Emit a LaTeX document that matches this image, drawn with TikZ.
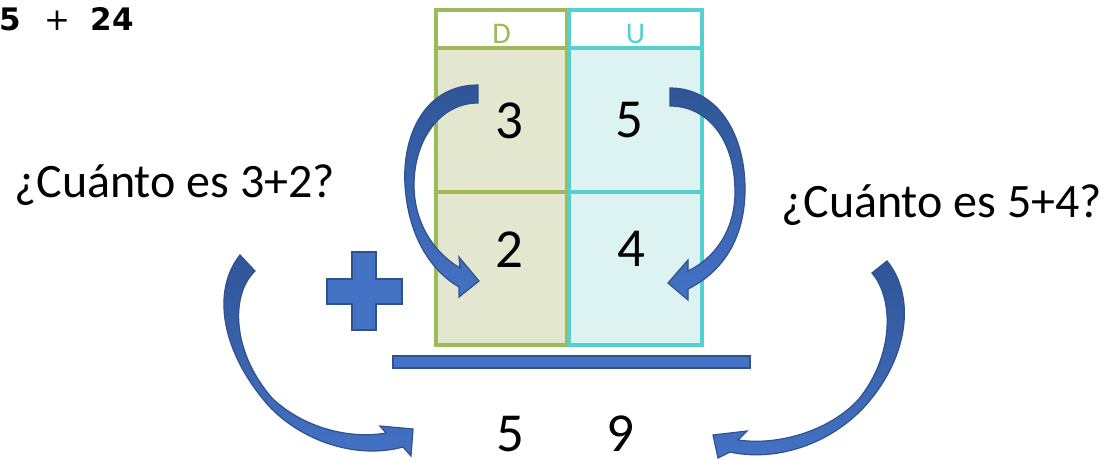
\documentclass[tikz,border=0pt]{standalone}
\usepackage{fontspec}
\setmainfont{Carlito}
\newfontfamily\heavysans{DejaVu Sans}
\usepackage{tikz}
\usetikzlibrary{positioning}
\definecolor{dgreen}{HTML}{9BBB59}
\definecolor{dfill}{HTML}{E4E7D0}
\definecolor{ucyan}{HTML}{55D0D0}
\definecolor{ufill}{HTML}{DDF3F2}
\definecolor{arrblue}{HTML}{4472C4}
\definecolor{arrdark}{HTML}{2F5597}
\definecolor{arredge}{HTML}{2F528F}

\tikzset{
    dcell/.style={draw=dgreen, fill=dfill, line width=3.5pt, inner sep=0pt, outer sep=0pt, minimum width=131pt},
    ucell/.style={draw=ucyan, fill=ufill, line width=3.5pt, inner sep=0pt, outer sep=0pt, minimum width=133pt},
    head/.style={fill=white, minimum height=38pt, text height=28pt, text depth=0pt, font=\fontsize{30}{34}\selectfont},
    digit/.style={inner sep=0pt, font=\fontsize{55}{60}\selectfont},
    question/.style={inner sep=0pt, anchor=base west, font=\fontsize{48}{52}\selectfont},
    blockarrow/.style={draw=arredge, line width=1.2pt, top color=arrdark, bottom color=arrblue},
    solidblue/.style={draw=arredge, fill=arrblue, line width=1.5pt},
}

\begin{document}
\begin{tikzpicture}[x=1pt, y=-1pt]
    \fill[white] (0,0) rectangle (1108,459);
    \useasboundingbox (0,0) rectangle (1108,459);

    % the place value table
    \node[dcell, head, text=dgreen] (hd) at (501.5,29) {D};
    \node[dcell, minimum height=144pt, below=0pt of hd] (d1) {};
    \node[dcell, minimum height=153pt, below=0pt of d1] (d2) {};
    \node[ucell, head, text=ucyan, right=2pt of hd] (hu) {U};
    \node[ucell, minimum height=144pt, below=0pt of hu] (u1) {};
    \node[ucell, minimum height=153pt, below=0pt of u1] (u2) {};

    \node[digit] (a1) at (509,120.5) {3};
    \node[digit] (b1) at (629,120.5) {5};
    \node[digit] (a2) at (509,250) {2};
    \node[digit] (b2) at (631,249) {4};

    % plus sign and result line
    \draw[solidblue] (352,252) -- (376,252) -- (376,279) -- (402,279) -- (402,304) -- (376,304)
        -- (376,330) -- (352,330) -- (352,304) -- (327,304) -- (327,279) -- (352,279) -- cycle;
    \draw[solidblue] (393,356) rectangle (750,368);

    \node[digit] (ra) at (510,434) {5};
    \node[digit] (rb) at (620,434) {9};

    % questions
    \node[question] (qa) at (14,197) {¿Cuánto es 3+2?};
    \node[question] (qb) at (781,217) {¿Cuánto es 5+4?};
    \node[inner sep=0pt, anchor=base east, font=\heavysans\fontsize{31}{34}\selectfont] (sum) at (134,30)
        {\bfseries 5\hspace{24pt}\mdseries+\hspace{20pt}\bfseries 24};

    % curved arrows
    \draw[blockarrow] (478,85) .. controls (425,85) and (402,135) .. (405,185)
        .. controls (408,235) and (430,270) .. (459,287) -- (459,297) -- (479,281) -- (459,257) -- (460,268)
        .. controls (433,252) and (414,222) .. (414,185) .. controls (414,140) and (440,103) .. (478,103) -- cycle;
    \draw[blockarrow] (670,88) .. controls (718,88) and (746,135) .. (745,192)
        .. controls (744,240) and (722,272) .. (688,289) -- (688,300) -- (668,283) -- (688,260) -- (688,271)
        .. controls (715,258) and (735,230) .. (735,192) .. controls (735,140) and (708,106) .. (670,106) -- cycle;
    \draw[blockarrow] (240,255) .. controls (212,290) and (220,350) .. (268,405)
        .. controls (300,440) and (355,460) .. (403,447) -- (411,456) -- (413,429) -- (380,426) -- (386,433)
        .. controls (345,440) and (300,425) .. (272,398) .. controls (232,352) and (230,295) .. (255,271) -- cycle;
    \draw[blockarrow] (887,261) .. controls (915,295) and (910,355) .. (866,405)
        .. controls (830,445) and (775,462) .. (730,452) -- (718,458) -- (713,435) -- (747,431) -- (738,440)
        .. controls (780,446) and (830,430) .. (858,400) .. controls (893,358) and (895,300) .. (872,273) -- cycle;
\end{tikzpicture}
\end{document}
